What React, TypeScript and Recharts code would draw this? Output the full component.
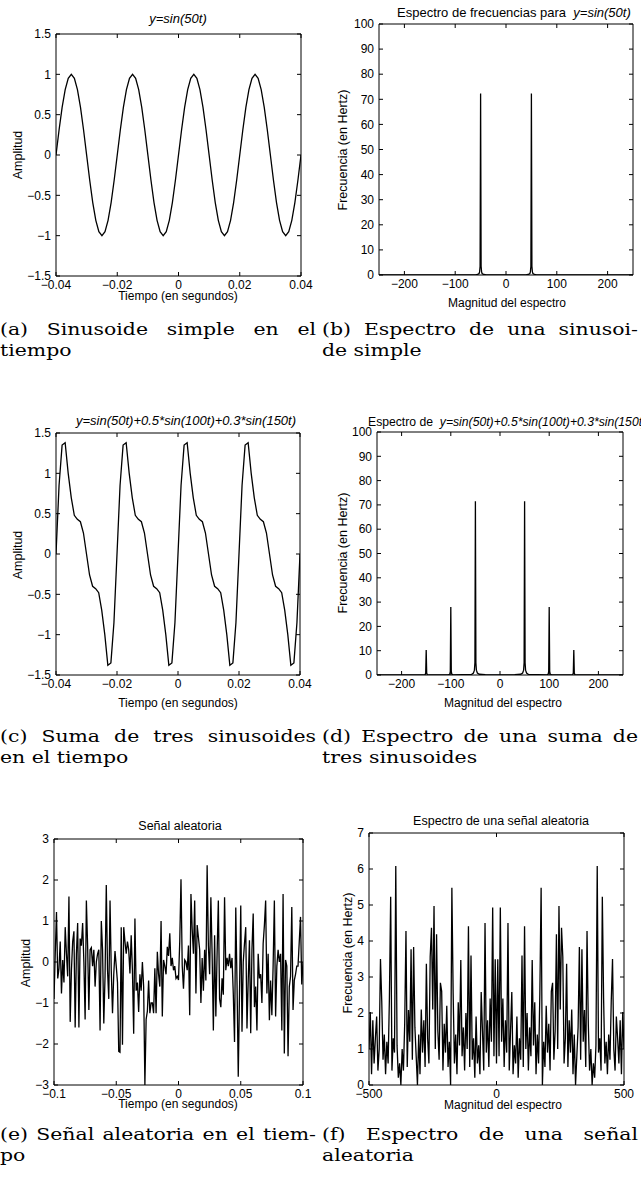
import React from "react";
import { LineChart, Line, XAxis, YAxis } from "recharts";

// sample grids (1 ms steps for the time signals, 5 Hz steps for the noise spectrum)
const timeShort = Array.from({ length: 81 }, (_, i) => -0.04 + i * 0.001);
const timeLong = Array.from({ length: 201 }, (_, i) => -0.1 + i * 0.001);
const noiseFreq = Array.from({ length: 201 }, (_, i) => -500 + i * 5);

// (a) y = sin(50t)
const sineValues = [
  0, 0.31, 0.59, 0.81, 0.95, 1, 0.95, 0.81, 0.59, 0.31, 0, -0.31, -0.59, -0.81, -0.95, -1, -0.95, -0.81, -0.59, -0.31,
  0, 0.31, 0.59, 0.81, 0.95, 1, 0.95, 0.81, 0.59, 0.31, 0, -0.31, -0.59, -0.81, -0.95, -1, -0.95, -0.81, -0.59, -0.31,
  0, 0.31, 0.59, 0.81, 0.95, 1, 0.95, 0.81, 0.59, 0.31, 0, -0.31, -0.59, -0.81, -0.95, -1, -0.95, -0.81, -0.59, -0.31,
  0, 0.31, 0.59, 0.81, 0.95, 1, 0.95, 0.81, 0.59, 0.31, 0, -0.31, -0.59, -0.81, -0.95, -1, -0.95, -0.81, -0.59, -0.31,
  0,
];

// (c) sum of three sinusoids
const sumValues = [
  0, 0.85, 1.35, 1.38, 1.0, 0.7, 0.48, 0.43, 0.4, 0.26, 0, -0.26, -0.4, -0.43, -0.48, -0.7, -1.0, -1.38, -1.35, -0.85,
  0, 0.85, 1.35, 1.38, 1.0, 0.7, 0.48, 0.43, 0.4, 0.26, 0, -0.26, -0.4, -0.43, -0.48, -0.7, -1.0, -1.38, -1.35, -0.85,
  0, 0.85, 1.35, 1.38, 1.0, 0.7, 0.48, 0.43, 0.4, 0.26, 0, -0.26, -0.4, -0.43, -0.48, -0.7, -1.0, -1.38, -1.35, -0.85,
  0, 0.85, 1.35, 1.38, 1.0, 0.7, 0.48, 0.43, 0.4, 0.26, 0, -0.26, -0.4, -0.43, -0.48, -0.7, -1.0, -1.38, -1.35, -0.85,
  0,
];

// (b) spectrum of the single sinusoid
const specFreqSingle = [-250, -60, -56, -53, -52, -51, -50, -49, -48, -47, -44, -40, -20, 0, 20, 40, 44, 47, 48, 49, 50, 51, 52, 53, 56, 60, 250];
const specMagSingle = [0, 0, 0.2, 0.6, 1.2, 3.5, 72.3, 3.5, 1.2, 0.6, 0.2, 0.1, 0, 0, 0, 0.1, 0.2, 0.6, 1.2, 3.5, 72.3, 3.5, 1.2, 0.6, 0.2, 0, 0];

// (d) spectrum of the sum
const specFreqSum = [
  -250, -155, -152, -151, -150, -149, -148, -145,
  -105, -102, -101, -100, -99, -98, -95,
  -58, -54, -52, -51, -50, -49, -48, -46, -42, -30,
  0,
  30, 42, 46, 48, 49, 50, 51, 52, 54, 58,
  95, 98, 99, 100, 101, 102, 105,
  145, 148, 149, 150, 151, 152, 155, 250,
];
const specMagSum = [
  0, 0, 0.2, 0.8, 10.3, 0.8, 0.2, 0,
  0, 0.4, 1.5, 28, 1.5, 0.4, 0,
  0.2, 0.8, 2, 5, 71.5, 5, 2, 0.8, 0.3, 0.1,
  0,
  0.1, 0.3, 0.8, 2, 5, 71.5, 5, 2, 0.8, 0.2,
  0, 0.4, 1.5, 28, 1.5, 0.4, 0,
  0, 0.2, 0.8, 10.3, 0.8, 0.2, 0, 0,
];

// (e) random signal
const noiseValues = [
  -0.9, 0.2, 1.22, -0.4, -0.16, 0.5, -0.77, 0.05, -0.5, 0.85,
  0.2, -0.35, 1.6, -1.46, -0.2, 0.5, 0.75, -1.6, 0.2, 0.95,
  -1.6, 0.57, 0.4, 0.95, 0.0, -1.4, 1.5, 0.4, -1.17, 0.3,
  0.35, -0.1, 0.3, -0.6, 0.0, 0.2, 0.3, -1.67, 1.0, 0.3,
  -1.5, -0.35, 1.88, -0.2, -0.9, 1.5, -0.2, -1.25, -0.3, 0.27,
  -0.1, -0.5, -2.18, -2.2, 0.85, -2.02, 0.85, 0.5, 0.2, 0.5,
  0.3, -0.28, 0.65, -0.2, -1.75, 1.06, -0.7, -0.5, -1.22, -0.3,
  -0.7, 0.0, -0.6, -3.0, -1.4, -1.2, -0.45, -1.25, -1.0, -1.0,
  -1.25, -0.15, -1.25, 0.25, -0.3, -0.6, 1.0, -1.33, 0.05, -0.1,
  -0.3, 0.37, 0.15, 0.7, -0.1, 0.1, -0.2, -0.1, -0.4, -0.35,
  -0.44, 0.5, 2.02, -0.1, -0.65, 0.05, 0.0, -0.2, 0.4, -1.3,
  1.66, 0.8, 0.2, 1.5, -0.77, 0.9, 0.6, 0.3, -1.0, 0.1,
  -0.7, 0.3, -0.45, 2.36, 0.4, -0.3, 1.58, 0.2, -1.67, 0.65,
  -1.33, 0.2, 1.5, -0.9, -1.1, -0.4, -0.8, 1.58, -0.2, 0.1,
  -0.1, 0.2, -0.15, 0.1, -0.77, -1.95, 1.33, -0.5, -2.8, -0.77,
  1.38, -1.7, 0.0, 0.45, 0.85, -1.62, -0.45, 0.53, -1.74, 0.3,
  1.18, -1.1, -0.6, -1.67, 0.2, -0.4, -0.3, -1.0, 0.45, 0.9,
  1.5, -0.77, 0.2, -1.42, -0.45, -1.3, -0.1, 1.5, -1.33, -0.1,
  0.3, 0.0, 0.2, -1.67, 1.66, -2.23, 0.05, -0.1, -2.3, -0.6,
  -0.35, 1.34, -1.17, -0.45, -0.3, -0.1, -0.1, 0.5, 1.1, -0.55, 0.0,
];

// (f) spectrum of the random signal, -500..500 Hz
const noiseSpectrum = [
  1.0, 2.03, 0.3, 1.8, 0.6, 1.3, 1.9, 0.4, 1.0, 3.5,
  2.33, 0.7, 1.4, 0.3, 1.2, 0.6, 2.4, 5.23, 0.4, 1.3,
  0.9, 6.08, 1.1, 0.2, 0.6, 0.0, 1.0, 0.4, 1.7, 4.28,
  0.5, 2.08, 1.2, 3.77, 0.7, 3.83, 1.6, 0.8, 0.0, 1.4,
  0.3, 2.1, 0.9, 1.8, 0.5, 3.37, 1.3, 0.6, 3.56, 4.37,
  2.1, 4.97, 1.0, 4.19, 1.5, 0.7, 2.84, 2.6, 0.4, 1.7,
  0.9, 2.2, 0.5, 1.2, 0.0, 5.48, 2.54, 0.6, 1.4, 0.3,
  2.3, 1.1, 3.47, 0.8, 1.6, 0.4, 2.0, 1.0, 4.41, 0.5,
  3.6, 0.7, 1.3, 0.2, 1.9, 0.6, 1.1, 0.3, 2.58, 1.5,
  0.4, 4.5, 0.9, 1.8, 0.5, 2.4, 1.2, 4.93, 0.8, 3.49,
  0.6,
  3.49, 0.8, 4.93, 1.2, 2.4, 0.5, 1.8, 0.9, 4.5, 0.4,
  1.5, 2.58, 0.3, 1.1, 0.6, 1.9, 0.2, 1.3, 0.7, 3.6,
  0.5, 4.41, 1.0, 2.0, 0.4, 1.6, 0.8, 3.47, 1.1, 2.3,
  0.3, 1.4, 0.6, 2.54, 5.48, 0.0, 1.2, 0.5, 2.2, 0.9,
  1.7, 0.4, 2.6, 2.84, 0.7, 1.5, 4.19, 1.0, 4.97, 2.1,
  4.37, 3.56, 0.6, 1.3, 3.37, 0.5, 1.8, 0.9, 2.1, 0.3,
  1.4, 0.0, 0.8, 1.6, 3.83, 0.7, 3.77, 1.2, 2.08, 0.5,
  4.28, 1.7, 0.4, 1.0, 0.0, 0.6, 0.2, 1.1, 6.08, 0.9,
  1.3, 0.4, 5.23, 2.4, 0.6, 1.2, 0.3, 1.4, 0.7, 2.33,
  3.5, 1.0, 0.4, 1.9, 1.3, 0.6, 1.8, 0.3, 2.03, 1.0,
];

// tick labels
const timeTicks = [-0.04, -0.02, 0, 0.02, 0.04];
const ampTicks = [-1.5, -1, -0.5, 0, 0.5, 1, 1.5];
const freqTicks = [-200, -100, 0, 100, 200];
const magTicks = [0, 10, 20, 30, 40, 50, 60, 70, 80, 90, 100];
const noiseTimeTicks = [-0.1, -0.05, 0, 0.05, 0.1];
const noiseAmpTicks = [-3, -2, -1, 0, 1, 2, 3];
const noiseFreqTicks = [-500, 0, 500];
const noiseMagTicks = [0, 1, 2, 3, 4, 5, 6, 7];

const SANS = "'Liberation Sans', Arial, sans-serif";
const SERIF = "'DejaVu Serif', serif";

const fmt = (v: number) => String(v).replace("-", "\u2212");
const blank = () => <g />;

type PanelProps = {
  xs: number[];
  ys: number[];
  box: [number, number, number, number]; // plot area: left, top, right, bottom
  xDomain: [number, number];
  yDomain: [number, number];
  xTicks: number[];
  yTicks: number[];
};

function Panel({ xs, ys, box, xDomain, yDomain, xTicks, yTicks }: PanelProps) {
  const [l, t, r, b] = box;
  const padL = 50, padR = 6, padT = 6, padB = 24;
  const data = xs.map((x, i) => ({ x, y: ys[i] }));
  const tickStyle = { fontSize: 12, fill: "#000", fontFamily: SANS };
  return (
    <div style={{ position: "absolute", left: l - padL, top: t - padT }}>
      <LineChart
        width={r - l + padL + padR}
        height={b - t + padT + padB}
        data={data}
        margin={{ top: 0, right: 0, bottom: 0, left: 0 }}
      >
        <XAxis xAxisId="b" dataKey="x" type="number" domain={xDomain} allowDataOverflow ticks={xTicks} interval={0}
          height={padB} stroke="#000" tickSize={-4} tickMargin={8} tick={tickStyle} tickFormatter={fmt} />
        <XAxis xAxisId="t" orientation="top" dataKey="x" type="number" domain={xDomain} allowDataOverflow ticks={xTicks} interval={0}
          height={padT} stroke="#000" tickSize={-4} tick={blank} />
        <YAxis yAxisId="l" type="number" domain={yDomain} allowDataOverflow ticks={yTicks} interval={0}
          width={padL} stroke="#000" tickSize={-4} tickMargin={9} tick={tickStyle} tickFormatter={fmt} />
        <YAxis yAxisId="r" orientation="right" type="number" domain={yDomain} allowDataOverflow ticks={yTicks} interval={0}
          width={padR} stroke="#000" tickSize={-4} tick={blank} />
        <Line xAxisId="b" yAxisId="l" dataKey="y" type="linear" stroke="#000" strokeWidth={1.3}
          dot={false} isAnimationActive={false} />
      </LineChart>
    </div>
  );
}

function Txt({ x, y, children, anchor = "center", rotate = false, size = 12 }: any) {
  const tx = anchor === "left" ? "0" : "-50%";
  return (
    <div
      style={{
        position: "absolute", left: x, top: y, whiteSpace: "nowrap",
        fontFamily: SANS, fontSize: size, lineHeight: 1, color: "#000",
        transform: `translate(${tx}, -50%)${rotate ? " rotate(-90deg)" : ""}`,
      }}
    >
      {children}
    </div>
  );
}

// LaTeX-like subcaptions: justified first line, stretched a little wider like the source
function Caption({ x, y, first, second }: { x: number; y: number; first: string; second: string }) {
  const k = 1.2;
  const w = 316 / k;
  return (
    <div
      style={{
        position: "absolute", left: x, top: y, fontFamily: SERIF, fontSize: 17, lineHeight: "21px",
        color: "#000", transform: `scaleX(${k})`, transformOrigin: "left top",
      }}
    >
      <div style={{ width: w, whiteSpace: "nowrap", textAlign: "justify", textAlignLast: "justify" }}>{first}</div>
      <div style={{ width: w, whiteSpace: "nowrap" }}>{second}</div>
    </div>
  );
}

export default function App() {
  return (
    <div style={{ position: "absolute", left: 0, top: 0, width: 641, height: 1189, overflow: "hidden", background: "#fff" }}>
      <style>{`.recharts-surface { overflow: visible; }`}</style>

      {/* (a) */}
      <Panel xs={timeShort} ys={sineValues} box={[56, 34, 301, 276]} xDomain={[-0.04, 0.04]} yDomain={[-1.5, 1.5]}
        xTicks={timeTicks} yTicks={ampTicks} />
      <Txt x={178} y={18} size={13}><i>y=sin(50t)</i></Txt>
      <Txt x={178} y={296}>Tiempo (en segundos)</Txt>
      <Txt x={18} y={155} rotate size={12.5}>Amplitud</Txt>

      {/* (b) */}
      <Panel xs={specFreqSingle} ys={specMagSingle} box={[379, 24, 633, 275]} xDomain={[-250, 250]} yDomain={[0, 100]}
        xTicks={freqTicks} yTicks={magTicks} />
      <Txt x={397} y={12} anchor="left" size={13}>Espectro de frecuencias para&nbsp;&nbsp;<i>y=sin(50t)</i></Txt>
      <Txt x={507} y={303}>Magnitud del espectro</Txt>
      <Txt x={343} y={150} rotate size={12.5}>Frecuencia (en Hertz)</Txt>

      <Caption x={0} y={319} first="(a) Sinusoide simple en el" second="tiempo" />
      <Caption x={322} y={319} first="(b) Espectro de una sinusoi-" second="de simple" />

      {/* (c) */}
      <Panel xs={timeShort} ys={sumValues} box={[56, 433, 300, 675]} xDomain={[-0.04, 0.04]} yDomain={[-1.5, 1.5]}
        xTicks={timeTicks} yTicks={ampTicks} />
      <Txt x={76} y={420} anchor="left" size={13}><i>y=sin(50t)+0.5*sin(100t)+0.3*sin(150t)</i></Txt>
      <Txt x={178} y={703}>Tiempo (en segundos)</Txt>
      <Txt x={18} y={555} rotate size={12.5}>Amplitud</Txt>

      {/* (d) */}
      <Panel xs={specFreqSum} ys={specMagSum} box={[377, 432, 623, 675]} xDomain={[-250, 250]} yDomain={[0, 100]}
        xTicks={freqTicks} yTicks={magTicks} />
      <Txt x={368} y={422} anchor="left" size={12.2}>Espectro de&nbsp;&nbsp;<i>y=sin(50t)+0.5*sin(100t)+0.3*sin(150t)</i></Txt>
      <Txt x={503} y={703}>Magnitud del espectro</Txt>
      <Txt x={343} y={553} rotate size={12.5}>Frecuencia (en Hertz)</Txt>

      <Caption x={0} y={726} first="(c) Suma de tres sinusoides" second="en el tiempo" />
      <Caption x={322} y={726} first="(d) Espectro de una suma de" second="tres sinusoides" />

      {/* (e) */}
      <Panel xs={timeLong} ys={noiseValues} box={[54, 839, 303, 1085]} xDomain={[-0.1, 0.1]} yDomain={[-3, 3]}
        xTicks={noiseTimeTicks} yTicks={noiseAmpTicks} />
      <Txt x={180} y={826} size={12.5}>Señal aleatoria</Txt>
      <Txt x={178} y={1104}>Tiempo (en segundos)</Txt>
      <Txt x={26} y={963} rotate size={12.5}>Amplitud</Txt>

      {/* (f) */}
      <Panel xs={noiseFreq} ys={noiseSpectrum} box={[369, 833, 624, 1085]} xDomain={[-500, 500]} yDomain={[0, 7]}
        xTicks={noiseFreqTicks} yTicks={noiseMagTicks} />
      <Txt x={501} y={821} size={12.5}>Espectro de una señal aleatoria</Txt>
      <Txt x={503} y={1105}>Magnitud del espectro</Txt>
      <Txt x={348} y={953} rotate size={12.5}>Frecuencia (en Hertz)</Txt>

      <Caption x={0} y={1124} first="(e) Señal aleatoria en el tiem-" second="po" />
      <Caption x={322} y={1124} first="(f) Espectro de una señal" second="aleatoria" />
    </div>
  );
}
